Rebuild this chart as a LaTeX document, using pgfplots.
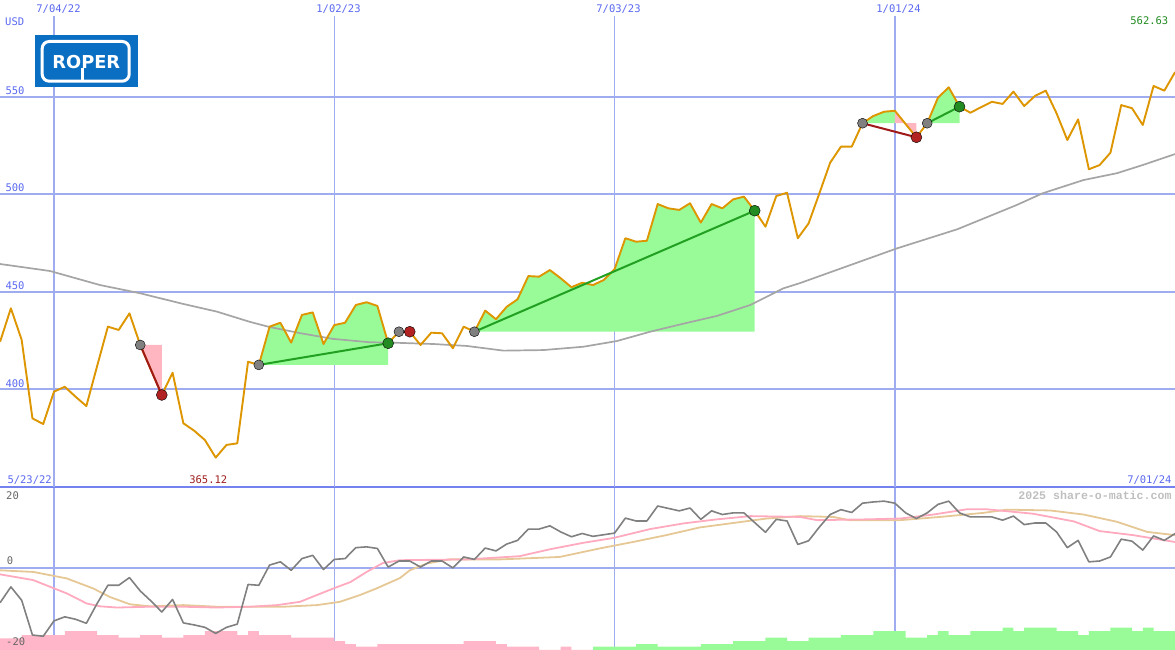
\documentclass[border=0pt]{standalone}
\usepackage{fontspec}
\setmainfont{DejaVu Sans}
\newfontfamily\labfont{DejaVu Sans Mono}
\newfontfamily\wmfont{Liberation Mono}
\usepackage{pgfplots}
\usepackage{pgfplotstable}
\pgfplotsset{compat=1.18}

\definecolor{gridblue}{RGB}{160,172,240}
\definecolor{sepblue}{RGB}{115,130,238}
\definecolor{labblue}{RGB}{90,105,240}
\definecolor{priceor}{RGB}{221,150,0}
\definecolor{magray}{RGB}{165,165,165}
\definecolor{fillgreen}{RGB}{152,251,152}
\definecolor{fillpink}{RGB}{255,182,193}
\definecolor{trendgreen}{RGB}{34,160,34}
\definecolor{trendred}{RGB}{160,25,25}
\definecolor{dotgray}{RGB}{128,128,128}
\definecolor{dotred}{RGB}{178,34,34}
\definecolor{dotgreen}{RGB}{34,139,34}
\definecolor{momgray}{RGB}{128,128,128}
\definecolor{sigpink}{RGB}{255,170,190}
\definecolor{sigtan}{RGB}{230,200,150}
\definecolor{barpink}{RGB}{255,182,200}
\definecolor{bargreen}{RGB}{152,251,152}
\definecolor{hiwgreen}{RGB}{34,139,34}
\definecolor{lowred}{RGB}{160,30,30}
\definecolor{logoblue}{RGB}{10,110,195}

% weekly closes, week 0 = 7/04/22
\pgfplotstableread{
w p
-5 424.5
-4 441.6
-3 425.4
-2 385.2
-1 382.3
0 398.9
1 401.4
2 396.3
3 391.5
4 412
5 432.2
6 430.5
7 439
8 422.8
9 410
10 397.2
11 408.6
12 382.7
13 378.9
14 374.1
15 365.12
16 371.6
17 372.4
18 414.2
19 412.6
20 432.2
21 434.2
22 424
23 438.2
24 439.5
25 423.3
26 433
27 434.2
28 443.3
29 444.7
30 442.8
31 423.7
32 429.6
33 429.6
34 422.8
35 429.1
36 428.8
37 421.1
38 432.2
39 429.6
40 440.4
41 436
42 442.4
43 446.2
44 458.1
45 457.8
46 461.2
47 457
48 452.4
49 454.7
50 453.5
51 456.1
52 461.6
53 477.5
54 475.7
55 476.2
56 495
57 492.8
58 492
59 495.4
60 485.5
61 495
62 492.8
63 497.4
64 498.8
65 491.6
66 483.4
67 499.1
68 500.8
69 477.5
70 485.1
71 500.5
72 516.2
73 524.4
74 524.4
75 536.4
76 540.1
77 542.3
78 542.8
79 536
80 529.2
81 536.4
82 549.5
83 554.8
84 544.9
85 541.8
86 544.6
87 547.4
88 546.3
89 552.6
90 545.2
91 550.4
92 553.1
93 541.5
94 527.8
95 538.4
96 512.8
97 515
98 521.3
99 545.7
100 544.1
101 535.5
102 555.5
103 553.1
104 562.63
}\price

% moving average
\pgfplotstableread{
w m
-5.01 464.3
-0.37 460.7
4.27 453.5
8 449.3
11.7 444.2
15.1 439.9
18.2 434.6
20 432
22.8 428.9
25.9 425.9
29.3 424.2
31.4 424
35.2 423.3
38.3 422.3
41.7 419.9
45.4 420.2
49.1 421.9
52.2 424.8
55.3 429.6
58.3 433.6
61.5 437.7
64.6 443.3
67.65 451.8
69.2 454.5
78.2 472.3
83.8 482.1
89.3 494.5
91.7 500.5
95.5 507.3
98.6 510.8
101 515
103.99 520.6
}\mavg

% momentum
\pgfplotstableread{
w v
-5 -8.6
-4 -4.7
-3 -8
-2 -16.6
-1 -16.9
0 -13.1
1 -12.1
2 -12.7
3 -13.7
4 -8.8
5 -4.3
6 -4.3
7 -2.4
8 -5.7
9 -8.2
10 -10.9
11 -7.8
12 -13.6
13 -14.1
14 -14.7
15 -16.2
16 -14.7
17 -13.9
18 -4.1
19 -4.3
20 0.7
21 1.5
22 -0.6
23 2.3
24 3.1
25 -0.4
26 2.1
27 2.3
28 5
29 5.2
30 4.8
31 0.2
32 1.7
33 1.7
34 0.2
35 1.7
36 1.7
37 0
38 2.7
39 2.1
40 4.9
41 4.2
42 5.9
43 6.8
44 9.6
45 9.6
46 10.4
47 8.9
48 7.7
49 8.5
50 7.8
51 8.2
52 8.6
53 12.3
54 11.6
55 11.6
56 15.3
57 14.7
58 14.1
59 14.8
60 12
61 14.1
62 13.2
63 13.6
64 13.6
65 11.2
66 8.8
67 12
68 11.6
69 5.8
70 6.7
71 10.1
72 13.2
73 14.4
74 13.7
75 16
76 16.3
77 16.5
78 16
79 13.6
80 12.2
81 13.6
82 15.7
83 16.5
84 13.6
85 12.6
86 12.6
87 12.6
88 11.8
89 12.8
90 10.7
91 11.1
92 11.1
93 8.9
94 5
95 6.8
96 1.5
97 1.7
98 2.7
99 7.1
100 6.6
101 4.4
102 7.9
103 6.8
104 8.5
}\mom

\pgfplotstableread{
w v
-5.01 -1.6
-1.95 -3
1.18 -6.3
3.03 -8.8
4.27 -9.5
5.82 -9.8
8.9 -9.6
11.97 -9.6
15.1 -9.8
18.2 -9.6
20.7 -9.2
22.8 -8.4
24.4 -6.7
25.9 -5.1
27.5 -3.5
29 -1
30.5 1.2
32.1 1.9
38.3 2.1
41.4 2.6
43.2 2.9
46 4.6
49.1 6.2
51.9 7.4
55.3 9.6
58.4 11
61.5 12
64.6 12.8
69.2 12.6
70.8 11.8
75.4 12
78.5 12.2
81.6 13.2
84.7 14.5
86.5 14.5
90.8 13.4
94.6 11.5
97 9.1
100.1 8.1
103.99 6.4
}\sigp

\pgfplotstableread{
w v
-5.01 -0.6
-1.92 -1
1.18 -2.6
3.65 -5.1
5.19 -7.2
7.05 -9
8.9 -9.5
12 -9.2
15.1 -9.6
18.2 -9.6
21.3 -9.6
24.4 -9.2
26.5 -8.4
28.4 -6.7
29.9 -5.1
32.1 -2.5
33 -0.6
34.6 1.1
36.7 2.1
41.4 2.1
46.9 2.7
50.6 4.8
53.7 6.4
56.8 8.1
59.9 10
63 11.1
66.1 12.2
69.2 12.8
72.3 12.6
73.8 11.8
78.5 11.8
82.2 12.6
86.2 13.6
88.4 14.4
92.4 14.2
95.5 13.2
98.6 11.4
101.4 8.9
103.99 8.1
}\sigt

% histogram bar heights (above the panel bottom)
\pgfplotstableread{
w h
-5.01 2.89
-3 3.70
1 4.69
4 3.70
6 3.04
8 3.70
10 3.04
12 3.70
14 4.69
17 3.70
18 4.69
19 3.70
22 3.04
26 2.22
27 1.48
28 0.81
30 1.48
38 2.22
41 1.48
42 0.81
45 0
47 0.81
48 0
50 0
}\histneg

\pgfplotstableread{
w h
50 0.81
54 1.48
56 0.81
60 1.48
63 2.22
66 3.04
68 2.22
70 3.04
73 3.70
76 4.69
79 3.04
81 3.70
82 4.69
83 3.70
85 4.69
88 5.51
89 4.69
90 5.51
93 4.69
95 3.70
96 4.69
98 5.51
100 4.69
101 5.51
102 4.69
103.99 4.69
}\histpos

\pgfplotsset{
  bare/.style={
    scale only axis, width=1175pt, anchor=south west,
    xmin=-5.01, xmax=103.99,
    axis line style={draw=none},
    major tick length=0pt,
    xticklabels={}, yticklabels={},
    line join=round,
  },
  panel/.style={
    bare,
    xtick={0,26,52,78},
    xmajorgrids, ymajorgrids,
    x grid style={gridblue, line width=1.5pt},
    y grid style={gridblue, line width=2pt},
  },
}

\newcommand{\lab}{\labfont\fontsize{10.5}{12}\selectfont}

\begin{document}
\begin{tikzpicture}
\useasboundingbox (0,0) rectangle (1175pt,650pt);

% lower panel: grid
\begin{axis}[panel, at={(0,0)}, height=163pt,
    ymin=-20.3, ymax=20, ytick={0},
    extra y ticks={20}, extra y tick labels={},
    extra y tick style={grid=major, y grid style={sepblue, line width=2pt}}]
  \addplot[draw=none] coordinates {(0,0)};
\end{axis}

% lower panel: histogram
\begin{axis}[bare, at={(0,0)}, height=163pt, ymin=0, ymax=40.3, xtick=\empty, ytick=\empty]
  \addplot[draw=none, fill=barpink, const plot] table[x=w, y=h]{\histneg} \closedcycle;
  \addplot[draw=none, fill=bargreen, const plot] table[x=w, y=h]{\histpos} \closedcycle;
\end{axis}

% lower panel: momentum and its averages
\begin{axis}[bare, at={(0,0)}, height=163pt, ymin=-20.3, ymax=20, xtick=\empty, ytick=\empty]
  \addplot[sigtan, line width=1.8pt] table[x=w, y=v]{\sigt};
  \addplot[sigpink, line width=1.8pt] table[x=w, y=v]{\sigp};
  \addplot[momgray, line width=1.6pt] table[x=w, y=v]{\mom};
\end{axis}

% price panel
\begin{axis}[panel, at={(0,163pt)}, height=487pt,
    ymin=350.05, ymax=599.54, ytick={400,450,500,550}]
  % areas between the close and the level where each run started
  \addplot[draw=none, fill=fillpink, restrict x to domain=8:10] table[x=w, y=p]{\price}
    -- (axis cs:10,422.8) -- (axis cs:8,422.8) -- cycle;
  \addplot[draw=none, fill=fillgreen, restrict x to domain=19:31] table[x=w, y=p]{\price}
    -- (axis cs:31,412.6) -- (axis cs:19,412.6) -- cycle;
  \addplot[draw=none, fill=fillgreen, restrict x to domain=39:65] table[x=w, y=p]{\price}
    -- (axis cs:65,429.6) -- (axis cs:39,429.6) -- cycle;
  \addplot[draw=none, fill=fillgreen, restrict x to domain=75:78] table[x=w, y=p]{\price}
    -- (axis cs:78,536.4) -- (axis cs:75,536.4) -- cycle;
  \addplot[draw=none, fill=fillpink, restrict x to domain=78:80] table[x=w, y=p]{\price}
    -- (axis cs:80,536.4) -- (axis cs:78,536.4) -- cycle;
  \addplot[draw=none, fill=fillgreen, restrict x to domain=81:84] table[x=w, y=p]{\price}
    -- (axis cs:84,536.4) -- (axis cs:81,536.4) -- cycle;

  \addplot[magray, line width=1.7pt] table[x=w, y=m]{\mavg};

  \addplot[only marks, mark=*, mark size=5pt, mark options={draw=none, fill=dotgray}]
    coordinates {(8,422.8) (19,412.6) (32,429.6) (39,429.6) (75,536.4) (81,536.4)};

  \addplot[priceor, line width=1.9pt] table[x=w, y=p]{\price};

  \addplot[trendred, line width=2pt] coordinates {(8,422.8) (10,397.2)};
  \addplot[trendgreen, line width=2pt] coordinates {(19,412.6) (31,423.7)};
  \addplot[trendred, line width=2pt] coordinates {(32,429.6) (33,429.6)};
  \addplot[trendgreen, line width=2pt] coordinates {(39,429.6) (65,491.6)};
  \addplot[trendred, line width=2pt] coordinates {(75,536.4) (80,529.2)};
  \addplot[trendgreen, line width=2pt] coordinates {(81,536.4) (84,544.9)};

  \addplot[only marks, mark=*, mark size=5.5pt, mark options={draw=none, fill=dotred}]
    coordinates {(10,397.2) (33,429.6) (80,529.2)};
  \addplot[only marks, mark=*, mark size=5.5pt, mark options={draw=none, fill=dotgreen}]
    coordinates {(31,423.7) (65,491.6) (84,544.9)};
\end{axis}

% strip above the grid for the date labels
\fill[white] (0pt,634pt) rectangle (1175pt,650pt);

% logo
\fill[logoblue] (35pt,615pt) rectangle (137.7pt,563.3pt);
\draw[white, line width=3pt, rounded corners=7pt] (42.2pt,608.5pt) rectangle (129.2pt,568.8pt);
\node[font=\bfseries\fontsize{17.8}{18}\selectfont, text=white, inner sep=0pt, anchor=base] at (86.3pt,581.7pt) {ROPER};
\draw[white, line width=2.2pt] (82.5pt,582pt) -- (82.5pt,569pt);

% labels
\begin{scope}[every node/.style={font=\lab, inner sep=0pt, text=labblue}]
  \node[anchor=base west] at (5pt,624.7pt) {USD};
  \node[anchor=base] at (58.5pt,637.3pt) {7/04/22};
  \node[anchor=base] at (338.5pt,637.3pt) {1/02/23};
  \node[anchor=base] at (618.5pt,637.3pt) {7/03/23};
  \node[anchor=base] at (898.5pt,637.3pt) {1/01/24};
  \node[anchor=base west] at (5.3pt,555.5pt) {550};
  \node[anchor=base west] at (5.3pt,458pt) {500};
  \node[anchor=base west] at (5.3pt,360.5pt) {450};
  \node[anchor=base west] at (5.3pt,262.7pt) {400};
  \node[anchor=base east, text=hiwgreen] at (1168.5pt,625pt) {562.63};
  \node[anchor=base west] at (7.3pt,166.7pt) {5/23/22};
  \node[anchor=base, text=lowred] at (208.3pt,166.7pt) {365.12};
  \node[anchor=base east] at (1171.7pt,166.7pt) {7/01/24};
  \node[anchor=base west, text=black!60] at (6pt,150pt) {20};
  \node[anchor=base west, text=black!60] at (6.7pt,85pt) {0};
  \node[anchor=base west, text=black!60] at (6pt,4pt) {-20};
\end{scope}
\node[font=\wmfont\bfseries\fontsize{11.6}{12}\selectfont, text=black!25, inner sep=0pt, anchor=base east] at (1171.7pt,150pt) {2025 share-o-matic.com};
\end{tikzpicture}
\end{document}
